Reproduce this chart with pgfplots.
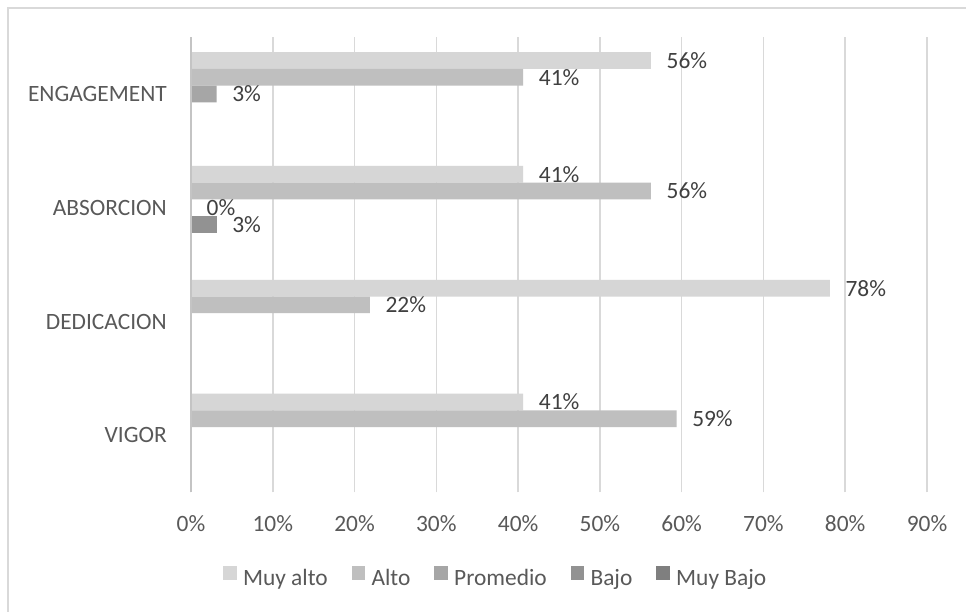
\documentclass[border=0pt]{standalone}
\usepackage{pgfplots}
\pgfplotsset{compat=1.18}
\usepackage{pgfplotstable}
\usepackage{fontspec}
\setmainfont{Carlito}
\definecolor{cMA}{HTML}{D6D6D6}
\definecolor{cAL}{HTML}{BFBFBF}
\definecolor{cPR}{HTML}{A6A6A6}
\definecolor{cBA}{HTML}{929292}
\definecolor{cMB}{HTML}{7F7F7F}
\definecolor{cgrid}{HTML}{D9D9D9}
\definecolor{caxis}{HTML}{C4C4C4}
\definecolor{txt}{HTML}{595959}
\definecolor{lbl}{HTML}{404040}

\pgfplotstableread{
y x
3 56.25
2 40.625
1 78.125
0 40.625
}\muyalto
\pgfplotstableread{
y x
3 40.625
2 56.25
1 21.875
0 59.375
}\alto
\pgfplotstableread{
y x
3 3.125
2 0
}\promedio
\pgfplotstableread{
y x
2 3.125
}\bajo

\begin{document}
\fontsize{23.4pt}{28pt}\selectfont
\begin{tikzpicture}
\useasboundingbox (0,0) rectangle (966pt,611pt);
\fill[white] (0,0) rectangle (966pt,611pt);
\draw[cgrid, line width=1.5pt] (8pt,-20pt) -- (8pt,603pt) -- (990pt,603pt);
\begin{axis}[
  at={(191pt,118.7pt)}, anchor=south west,
  scale only axis, width=736pt, height=455.3pt,
  xbar, bar width=16.7pt,
  xmin=0, xmax=90, ymin=-0.5, ymax=3.5,
  xtick={0,10,...,90},
  xticklabel={\pgfmathprintnumber{\tick}\%},
  /pgf/number format/assume math mode=true,
  ytick={0,1,2,3},
  yticklabels={VIGOR,DEDICACION,ABSORCION,ENGAGEMENT},
  yticklabel style={inner sep=0pt, xshift=-24pt, font=\fontsize{23.4pt}{28pt}\selectfont, text=txt},
  xticklabel style={inner sep=0pt, yshift=-23pt, font=\fontsize{23.4pt}{28pt}\selectfont, text=txt},
  major tick length=0pt,
  xmajorgrids, grid style={cgrid, line width=1.5pt},
  axis line style={draw=none},
  clip=false,
  nodes near coords={\pgfmathprintnumber[fixed,precision=0]{\pgfplotspointmeta}\%},
  every node near coord/.append style={anchor=west, inner sep=0pt, xshift=15.5pt, font=\fontsize{23.4pt}{28pt}\selectfont, text=lbl},
  legend image code/.code={\fill[#1] (0pt,0pt) rectangle (13.3pt,13.3pt);},
  legend style={at={(0.0435,-0.188)}, anchor=west, draw=none, fill=none, inner sep=0pt,
    legend columns=5, font=\fontsize{23.4pt}{28pt}\selectfont, text=txt,
    nodes={inner sep=0pt},
    /tikz/every odd column/.append style={column sep=6.5pt},
    /tikz/every even column/.append style={column sep=24pt}},
]
\addplot[fill=cMA, draw=none, bar shift=33.4pt] table[x=x,y=y]{\muyalto};
\addlegendentry{Muy alto}
\addplot[fill=cAL, draw=none, bar shift=16.7pt] table[x=x,y=y]{\alto};
\addlegendentry{Alto}
\addplot[fill=cPR, draw=none, bar shift=0pt] table[x=x,y=y]{\promedio};
\addlegendentry{Promedio}
\addplot[fill=cBA, draw=none, bar shift=-16.7pt] table[x=x,y=y]{\bajo};
\addlegendentry{Bajo}
\addlegendimage{fill=cMB, draw=none}
\addlegendentry{Muy Bajo}
\draw[caxis, line width=1.5pt] (axis cs:0,-0.5) -- (axis cs:0,3.5);
\end{axis}
\end{tikzpicture}
\end{document}
